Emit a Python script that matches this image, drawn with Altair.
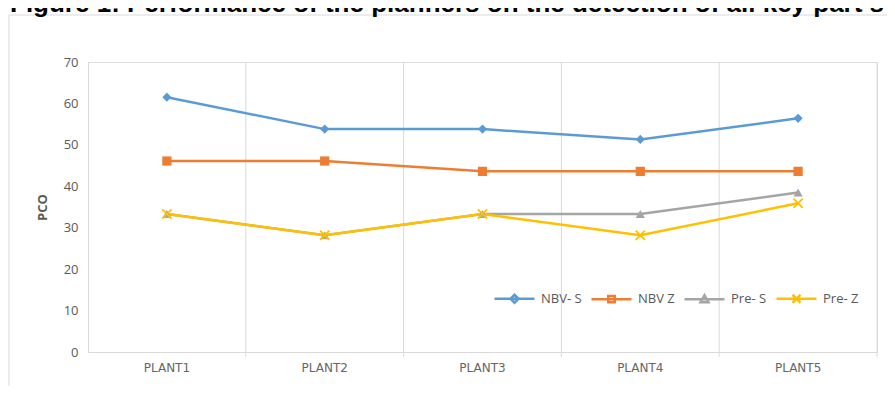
import altair as alt
import pandas as pd

title_text = "Figure 1: Performance of the planners on the detection of all key part s"
plants = ["PLANT1", "PLANT2", "PLANT3", "PLANT4", "PLANT5"]
series = ["NBV- S", "NBV Z", "Pre- S", "Pre- Z"]
nbv_s = [61.5, 53.8, 53.8, 51.3, 56.4]
nbv_z = [46.1, 46.1, 43.6, 43.6, 43.6]
pre_s = [33.3, 28.2, 33.3, 33.3, 38.5]
pre_z = [33.3, 28.2, 33.3, 28.2, 35.9]
y_ticks = [0, 10, 20, 30, 40, 50, 60, 70]
colors = ["#5B9BD5", "#ED7D31", "#A5A5A5", "#FFC000"]
marker_shapes = ["diamond", "square", "triangle-up", "M-1,-1L1,1M-1,1L1,-1"]
marker_filled = [True, True, True, False]
legend_shapes = [
    "M-1,0L1,0M0,-0.2L0.2,0L0,0.2L-0.2,0Z",
    "M-1,0L1,0M-0.16,-0.16L0.16,-0.16L0.16,0.16L-0.16,0.16Z",
    "M-1,0L1,0M0,-0.2L0.2,0.15L-0.2,0.15Z",
    "M-1,0L1,0M-0.2,-0.2L0.2,0.2M-0.2,0.2L0.2,-0.2",
]

rows = []
for s, vals in zip(series, [nbv_s, nbv_z, pre_s, pre_z]):
    for p, v in zip(plants, vals):
        rows.append({"plant": p, "series": s, "value": v})
df = pd.DataFrame(rows)

W, H = 789, 290
GRID = "#d9d9d9"
TXT = "#595959"

x_axis = alt.Axis(labelAngle=0, ticks=False, grid=False, title=None,
                  labelPadding=10, labelFont="DejaVu Sans", labelFontSize=12,
                  labelColor="#666666", domainColor=GRID)
x_scale = alt.Scale(type="band", domain=plants, paddingInner=0, paddingOuter=0)
y_axis = alt.Axis(values=y_ticks, grid=False, ticks=False, domainColor=GRID,
                  labelPadding=10, labelFont="Open Sans", labelFontSize=13,
                  labelColor=TXT, title="PCO", titleFont="Open Sans",
                  titleFontSize=13, titleFontWeight="bold", titleColor=TXT,
                  titlePadding=14)
y_scale = alt.Scale(domain=[0, 70], nice=False)

xe = alt.X("plant:N", scale=x_scale, axis=x_axis, bandPosition=0.5)
ye = alt.Y("value:Q", scale=y_scale, axis=y_axis)
cscale = alt.Scale(domain=series, range=colors)

frame = alt.Chart(pd.DataFrame({"a": [0]})).mark_rect(
    filled=False, stroke=GRID, strokeWidth=1
).encode(x=alt.value(-79), x2=alt.value(900), y=alt.value(-47), y2=alt.value(400))

title_mark = alt.Chart(pd.DataFrame({"t": [title_text]})).mark_text(
    align="left", baseline="alphabetic", font="Liberation Sans", fontSize=26,
    fontWeight="bold", color="black"
).encode(text="t:N", x=alt.value(-78), y=alt.value(-50))

grid = alt.Chart(pd.DataFrame({"plant": plants})).mark_rule(
    color=GRID, strokeWidth=1
).encode(
    x=alt.X("plant:N", scale=x_scale, axis=x_axis, bandPosition=1),
    y=alt.value(0), y2=alt.value(H + 5),
)

lines = alt.Chart(df).mark_line(strokeWidth=2.5).encode(
    x=xe, y=ye,
    color=alt.Color("series:N", scale=cscale, legend=None, sort=series),
)

point_layers = []
for s, shp, fl in zip(series, marker_shapes, marker_filled):
    point_layers.append(
        alt.Chart(df).transform_filter(alt.datum.series == s).mark_point(
            filled=fl, shape=shp, size=85, strokeWidth=1.8, opacity=1
        ).encode(
            x=xe, y=ye,
            color=alt.Color("series:N", scale=cscale, legend=None, sort=series),
        )
    )

leg = alt.Legend(orient="none", legendX=405, legendY=215, direction="horizontal",
                 symbolSize=1600, symbolStrokeWidth=2.5, labelFont="Open Sans",
                 labelFontSize=13, labelColor=TXT, labelOffset=5, columnPadding=4,
                 title=None)

legend_layer = alt.Chart(df).transform_filter("datum.value < 0").mark_point(
    filled=False, opacity=1
).encode(
    x=xe, y=ye,
    stroke=alt.Stroke("series:N", scale=alt.Scale(domain=series, range=colors),
                      legend=leg, sort=series),
    shape=alt.Shape("series:N", scale=alt.Scale(domain=series, range=legend_shapes),
                    legend=leg, sort=series),
)

chart = alt.layer(frame, title_mark, grid, lines, *point_layers, legend_layer).resolve_legend(
    stroke="independent", shape="independent"
).properties(
    width=W, height=H,
    autosize=alt.AutoSizeParams(type="none"),
    padding={"left": 80, "top": 54, "right": 10, "bottom": 34},
).configure_view(strokeWidth=0).configure(background="white")

chart.save("out.html", embed_options={"renderer": "svg", "actions": False})
